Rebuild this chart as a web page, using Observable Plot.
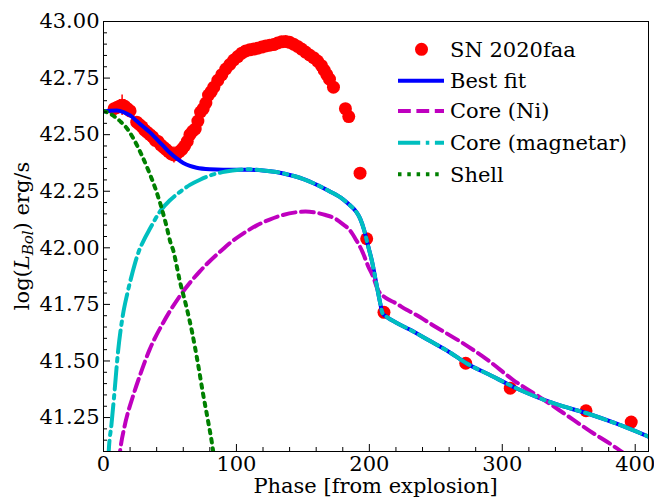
<!DOCTYPE html>
<html><head><meta charset="utf-8">
<script src="https://cdn.jsdelivr.net/npm/d3@7"></script>
<script src="https://cdn.jsdelivr.net/npm/@observablehq/plot@0.6"></script>
<style>
body{margin:0;background:#fff;}
#wrap{position:relative;width:654px;height:499px;overflow:hidden;}
</style></head><body><div id="wrap"></div>
<script>
// Observed bolometric light curve (SN 2020faa)
const obsPhase = [8,10,12,14,16,18,20,25,27,29,31,33,35,37,39,41,43,45,47,49,51,53,55,57,59,61,63,65,67,69,71,73,75,77,79,81,83,86,89,92,95,98,101,104,107,110,113,116,119,122,125,128,131,134,137,140,143,146,149,152,155,158,161,164,166,168,170,173,182,184.5,193,198,211,272.5,306,363,397];
const obsLogL  = [42.615,42.62,42.625,42.63,42.625,42.615,42.605,42.555,42.545,42.535,42.52,42.51,42.50,42.49,42.475,42.47,42.455,42.445,42.435,42.425,42.415,42.41,42.415,42.425,42.435,42.45,42.47,42.50,42.515,42.525,42.56,42.60,42.615,42.64,42.675,42.69,42.71,42.74,42.765,42.79,42.81,42.83,42.845,42.86,42.87,42.875,42.878,42.882,42.887,42.892,42.895,42.898,42.905,42.91,42.912,42.908,42.90,42.89,42.878,42.865,42.852,42.84,42.825,42.805,42.785,42.765,42.745,42.71,42.615,42.58,42.33,42.04,41.715,41.49,41.38,41.28,41.23];
const obsErr   = [0.02,0.025,0.03,0.045,0.03,0.02,0.02,0.02,0.02,0.02,0.015,0.02,0.02,0.015,0.02,0.02,0.02,0.025,0.03,0.025,0.03,0.035,0.03,0.02,0.015,0.015,0.015,0.015,0.015,0.015,0.015,0.015,0.015,0.015,0.015,0.015,0.015,0.01,0.01,0.01,0.01,0.01,0.01,0.01,0.01,0.01,0.01,0.01,0.01,0.01,0.01,0.01,0.01,0.01,0.01,0.01,0.01,0.01,0.01,0.01,0.01,0.01,0.01,0.01,0.01,0.01,0.01,0.01,0.01,0.02,0.01,0.01,0.01,0.01,0.01,0.01,0.01];

// Best fit model
const fitPhase = [0,5,10,15,20,25,30,35,40,45,50,55,60,65,70,80,90,100,110,120,130,140,150,160,170,180,185,190,193,196,199,202,205,208,210,213,220,230,245,260,273,290,313,340,363,385,410];
const fitLogL  = [42.602,42.606,42.607,42.600,42.585,42.560,42.535,42.510,42.480,42.450,42.420,42.395,42.375,42.362,42.354,42.347,42.345,42.345,42.345,42.342,42.335,42.322,42.305,42.280,42.250,42.215,42.190,42.160,42.130,42.080,42.010,41.940,41.850,41.760,41.710,41.695,41.670,41.640,41.590,41.540,41.490,41.440,41.373,41.310,41.270,41.225,41.166];

// Core (Ni)
const niPhase = [11.5,12.6,15.8,22.1,27.1,34.6,44.7,57.2,72.3,90,97,105,115,125,135,145,152,160,167,173,180,185,190,195,199,203,206,208,212,220,228,233,250,270,290,308,327,346,366,386,392];
const niLogL  = [41.05,41.107,41.21,41.343,41.431,41.549,41.667,41.785,41.895,41.995,42.03,42.063,42.098,42.125,42.145,42.157,42.16,42.155,42.145,42.133,42.105,42.08,42.035,41.98,41.92,41.87,41.82,41.80,41.78,41.755,41.726,41.711,41.65,41.58,41.50,41.417,41.345,41.27,41.19,41.115,41.09];

// Core (magnetar)
const magPhase = [3.5,4,6,8,11,14.5,18,22,26.6,30,35,43,50,57,65,73,82,92,102,110,120,130,140,150,160,170,180,185,190,193,196,199,202,205,208,210,213,220,230,245,260,273,290,313,340,363,385,410];
const magLogL  = [41.05,41.107,41.22,41.345,41.545,41.70,41.80,41.895,41.985,42.03,42.085,42.165,42.21,42.245,42.278,42.302,42.323,42.337,42.345,42.347,42.342,42.335,42.322,42.305,42.280,42.250,42.215,42.190,42.160,42.130,42.080,42.010,41.940,41.850,41.760,41.710,41.695,41.670,41.640,41.590,41.540,41.490,41.440,41.373,41.310,41.270,41.225,41.166];

// Shell
const shellPhase = [0,4,8.3,13.3,18,22.1,28.4,34.1,39.2,43.4,47.2,50.5,52.7,54.7,57.2,62.3,66.8,71,74.8,78.5,81.8,83];
const shellLogL  = [42.605,42.595,42.58,42.555,42.525,42.487,42.414,42.337,42.259,42.182,42.10,42.021,41.984,41.93,41.859,41.741,41.623,41.49,41.358,41.24,41.129,41.08];

// Ticks
const xTicks = [0,100,200,300,400];
const xMinor = [20,40,60,80,120,140,160,180,220,240,260,280,320,340,360,380];
const yTicks = [41.25,41.5,41.75,42.0,42.25,42.5,42.75,43.0];
const yMinor = [41.1,41.15,41.2,41.3,41.35,41.4,41.45,41.55,41.6,41.65,41.7,41.8,41.85,41.9,41.95,42.05,42.1,42.15,42.2,42.3,42.35,42.4,42.45,42.55,42.6,42.65,42.7,42.8,42.85,42.9,42.95];

const legendLabels = ["SN 2020faa","Best fit","Core (Ni)","Core (magnetar)","Shell"];

const obs = obsPhase.map((p,i)=>({phase:p, logL:obsLogL[i], err:obsErr[i]}));
const mk = (P,L)=>P.map((p,i)=>({phase:p, logL:L[i]}));
const fit = mk(fitPhase, fitLogL);
const ni = mk(niPhase, niLogL);
const mag = mk(magPhase, magLogL);
const shell = mk(shellPhase, shellLogL);

const W = 654, H = 499, mL = 103, mR = 6, mT = 21, mB = 48;
const fw = W - mL - mR, fh = H - mT - mB;
const font = "'DejaVu Serif', serif";
const FS = 21;
const C = {red:"#ff0000", blue:"#0000ff", mag:"#bf00bf", cyan:"#00bfbf", green:"#008000"};
const LW = 4;

const svg = Plot.plot({
  width: W, height: H,
  marginLeft: mL, marginRight: mR, marginTop: mT, marginBottom: mB,
  style: {fontFamily: font, fontSize: FS + "px", color: "#000", background: "#fff"},
  x: {domain: [0, 410]},
  y: {domain: [41.1, 43.0]},
  marks: [
    Plot.ruleX(obs, {x: "phase", y1: d => d.logL - d.err, y2: d => d.logL + d.err, stroke: C.red, strokeWidth: 1.5}),
    Plot.dot(obs, {x: "phase", y: "logL", r: 6.5, fill: C.red, stroke: "none"}),
    Plot.line(fit, {x: "phase", y: "logL", stroke: C.blue, strokeWidth: LW, curve: "monotone-x", clip: true}),
    Plot.line(ni, {x: "phase", y: "logL", stroke: C.mag, strokeWidth: LW, strokeDasharray: "12.8,5.6", curve: "monotone-x", clip: true}),
    Plot.line(mag, {x: "phase", y: "logL", stroke: C.cyan, strokeWidth: LW, strokeDasharray: "22.2,5.6,3.5,5.6", curve: "monotone-x", clip: true}),
    Plot.line(shell, {x: "phase", y: "logL", stroke: C.green, strokeWidth: LW, strokeDasharray: "3.5,5.8", curve: "monotone-x", clip: true}),
    Plot.tickX(xMinor, {x: d => d, insetTop: fh - 4, stroke: "#000", strokeWidth: 1}),
    Plot.tickX(xTicks, {x: d => d, insetTop: fh - 7, stroke: "#000", strokeWidth: 1}),
    Plot.tickY(yMinor, {y: d => d, insetRight: fw - 4, stroke: "#000", strokeWidth: 1}),
    Plot.tickY(yTicks, {y: d => d, insetRight: fw - 7, stroke: "#000", strokeWidth: 1}),
    Plot.axisX({ticks: xTicks, tickSize: 0, tickPadding: 5, label: null, tickFormat: d => String(d), fontSize: FS}),
    Plot.axisY({ticks: yTicks, tickSize: 0, tickPadding: 4, label: null, tickFormat: d => d.toFixed(2), fontSize: FS}),
    Plot.frame({stroke: "#000", strokeWidth: 1})
  ]
});
document.getElementById("wrap").appendChild(svg);

const s = d3.select(svg);
// axis labels
s.append("text")
  .attr("x", mL + fw / 2).attr("y", 493)
  .attr("text-anchor", "middle").attr("font-family", font).attr("font-size", FS).attr("fill", "#000")
  .text("Phase [from explosion]");
const yl = s.append("text")
  .attr("transform", `translate(29,${mT + fh / 2}) rotate(-90)`)
  .attr("text-anchor", "middle").attr("font-family", font).attr("font-size", FS).attr("fill", "#000");
yl.append("tspan").text("log(");
yl.append("tspan").attr("font-style", "italic").text("L");
yl.append("tspan").attr("font-style", "italic").attr("font-size", 15).attr("dy", 4).text("Bol");
yl.append("tspan").attr("dy", -4).text(") erg/s");

// legend
const lg = s.append("g").attr("font-family", font).attr("font-size", FS).attr("text-anchor", "start");
const rowY = [49.3, 80.7, 111, 142.7, 174.3];
const sw = [
  null,
  {c: C.blue, d: null},
  {c: C.mag, d: "12.8,5.6"},
  {c: C.cyan, d: "22.2,5.6,3.5,5.6"},
  {c: C.green, d: "3.5,5.8"}
];
legendLabels.forEach((lab, i) => {
  const y = rowY[i];
  if (i === 0) {
    lg.append("circle").attr("cx", 421.5).attr("cy", y).attr("r", 6.5).attr("fill", C.red);
  } else {
    const l = lg.append("line").attr("x1", 398).attr("x2", 444).attr("y1", y).attr("y2", y)
      .attr("stroke", sw[i].c).attr("stroke-width", LW);
    if (sw[i].d) l.attr("stroke-dasharray", sw[i].d);
  }
  lg.append("text").attr("x", 450).attr("y", y).attr("dy", "0.35em").attr("text-anchor", "start").attr("fill", "#000").text(lab);
});
</script>
</body></html>
